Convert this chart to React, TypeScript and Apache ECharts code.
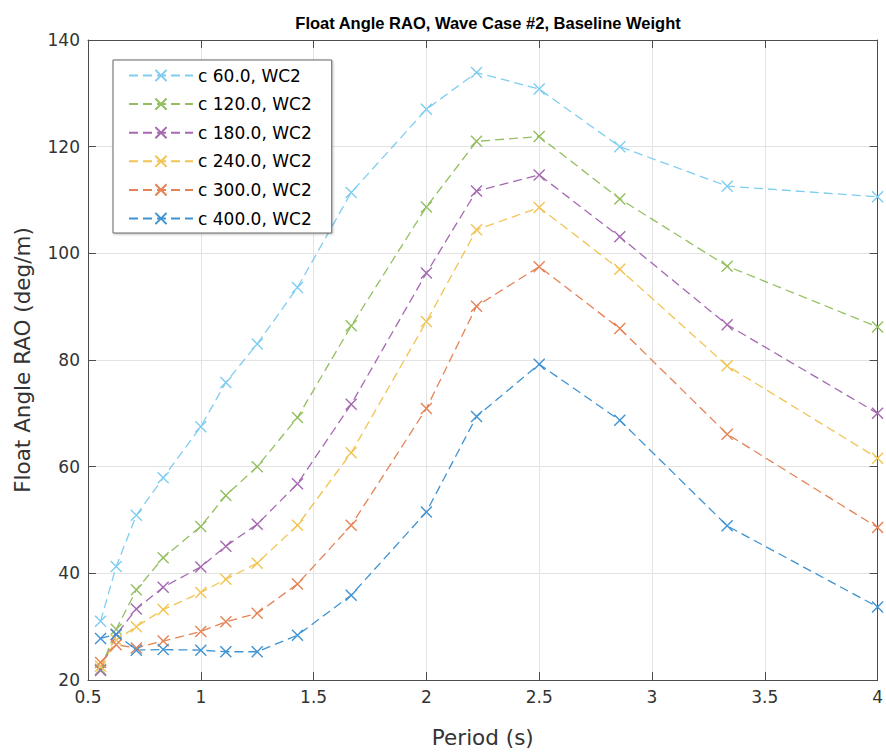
import React, { useEffect, useRef } from "react";
import * as echarts from "echarts";

const periods = [0.5556, 0.625, 0.7143, 0.8333, 1.0, 1.1111, 1.25, 1.4286, 1.6667, 2.0, 2.2222, 2.5, 2.8571, 3.3333, 4.0];

const c60 = [31.0, 41.3, 50.9, 57.9, 67.5, 75.8, 83.0, 93.6, 111.4, 127.0, 133.9, 130.8, 120.0, 112.6, 110.6];
const c120 = [22.0, 29.5, 36.9, 42.9, 48.8, 54.6, 60.0, 69.2, 86.4, 108.7, 121.0, 121.9, 110.2, 97.6, 86.2];
const c180 = [21.8, 28.5, 33.3, 37.4, 41.2, 45.1, 49.2, 56.8, 71.7, 96.3, 111.7, 114.7, 103.1, 86.6, 70.0];
const c240 = [22.6, 27.5, 30.0, 33.2, 36.4, 38.9, 41.9, 49.0, 62.6, 87.2, 104.4, 108.6, 97.0, 78.9, 61.6];
const c300 = [23.3, 26.6, 26.0, 27.3, 29.1, 30.9, 32.5, 38.0, 49.0, 70.9, 90.1, 97.5, 85.9, 66.1, 48.6];
const c400 = [27.8, 28.6, 25.6, 25.7, 25.6, 25.3, 25.3, 28.4, 35.9, 51.5, 69.4, 79.2, 68.7, 48.9, 33.7];

const seriesNames = ["c 60.0, WC2", "c 120.0, WC2", "c 180.0, WC2", "c 240.0, WC2", "c 300.0, WC2", "c 400.0, WC2"];
const seriesValues = [c60, c120, c180, c240, c300, c400];
const seriesColors = ["#7fcdf0", "#93bf5f", "#a569b2", "#f2c454", "#e58356", "#3f93d2"];

const xTicks = [0.5, 1, 1.5, 2, 2.5, 3, 3.5, 4];
const yTicks = [20, 40, 60, 80, 100, 120, 140];

const FONT = "'DejaVu Sans', Verdana, sans-serif";
const TITLE_FONT = "'Liberation Sans', Arial, Helvetica, sans-serif";
const AXIS_COLOR = "#4d4d4d";
const TEXT_COLOR = "#333333";
const CROSS = "path://M0,0L10,10M10,0L0,10";

export default function App() {
  const ref = useRef<HTMLDivElement>(null);

  useEffect(() => {
    if (!ref.current) return;
    const chart = echarts.init(ref.current, undefined, { renderer: "svg" });

    const series = seriesNames.map((name, i) => ({
      name,
      type: "line",
      data: periods.map((p, j) => [p, seriesValues[i][j]]),
      symbol: CROSS,
      symbolSize: 11,
      showSymbol: true,
      lineStyle: { color: seriesColors[i], width: 1.3, type: [9, 5] },
      itemStyle: { color: "none", borderColor: seriesColors[i], borderWidth: 1.4 },
      emphasis: { disabled: true },
      xAxisIndex: 0,
      yAxisIndex: 0,
    }));

    const axisCommon = {
      axisLine: { show: true, onZero: false, lineStyle: { color: AXIS_COLOR, width: 1 } },
      axisTick: { show: true, inside: true, length: 8, lineStyle: { color: AXIS_COLOR } },
    };

    chart.setOption({
      animation: false,
      backgroundColor: "#ffffff",
      title: {
        text: "Float Angle RAO, Wave Case #2, Baseline Weight",
        left: 483,
        textAlign: "center",
        top: 9,
        textStyle: { fontFamily: TITLE_FONT, fontSize: 16.5, fontWeight: "bold", color: "#000000" },
      },
      legend: {
        data: seriesNames,
        orient: "vertical",
        left: 113,
        top: 60,
        padding: [7, 20, 6, 15],
        itemWidth: 64,
        itemHeight: 14,
        itemGap: 11.6,
        backgroundColor: "#ffffff",
        borderColor: "#666666",
        borderWidth: 1,
        shadowColor: "rgba(0,0,0,0.25)",
        shadowBlur: 2,
        shadowOffsetX: 1,
        shadowOffsetY: 1,
        textStyle: { fontFamily: FONT, fontSize: 17, color: "#000000" },
        selectedMode: false,
      },
      grid: { left: 88, right: 7, top: 40, bottom: 73, containLabel: false },
      xAxis: [
        {
          type: "value",
          min: 0.5,
          max: 4,
          interval: 0.5,
          name: "Period (s)",
          nameLocation: "middle",
          nameGap: 46,
          nameTextStyle: { fontFamily: FONT, fontSize: 21.5, color: TEXT_COLOR },
          ...axisCommon,
          axisLabel: {
            fontFamily: FONT,
            fontSize: 17,
            color: TEXT_COLOR,
            margin: 8,
            formatter: (v: number) => (xTicks.includes(v) ? String(v) : ""),
          },
          splitLine: { show: true, lineStyle: { color: "#e3e3e3", width: 1 } },
        },
        {
          type: "value",
          position: "top",
          min: 0.5,
          max: 4,
          interval: 0.5,
          ...axisCommon,
          axisLabel: { show: false },
          splitLine: { show: false },
        },
      ],
      yAxis: [
        {
          type: "value",
          min: 20,
          max: 140,
          interval: 20,
          name: "Float Angle RAO (deg/m)",
          nameLocation: "middle",
          nameGap: 55,
          nameTextStyle: { fontFamily: FONT, fontSize: 21.5, color: TEXT_COLOR },
          ...axisCommon,
          axisLabel: {
            fontFamily: FONT,
            fontSize: 17,
            color: TEXT_COLOR,
            margin: 8,
            formatter: (v: number) => (yTicks.includes(v) ? String(v) : ""),
          },
          splitLine: { show: true, lineStyle: { color: "#e3e3e3", width: 1 } },
        },
        {
          type: "value",
          position: "right",
          min: 20,
          max: 140,
          interval: 20,
          ...axisCommon,
          axisLabel: { show: false },
          splitLine: { show: false },
        },
      ],
      series,
    });

    return () => chart.dispose();
  }, []);

  return (
    <div
      ref={ref}
      style={{ position: "absolute", left: 0, top: 0, width: 886, height: 753, background: "#fff" }}
    />
  );
}
